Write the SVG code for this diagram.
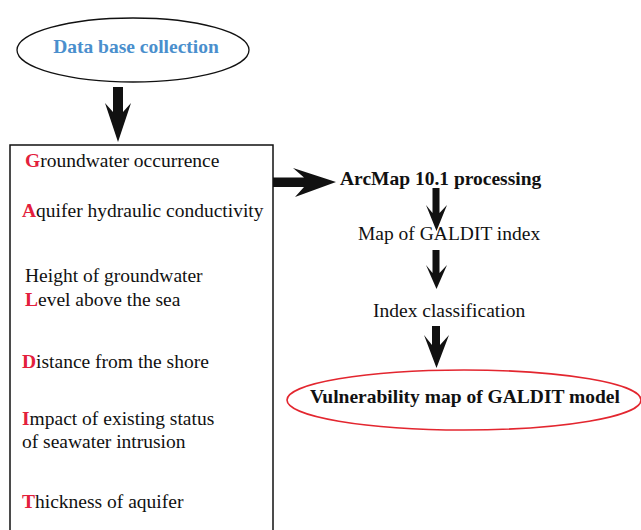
<svg xmlns="http://www.w3.org/2000/svg" width="641" height="530" viewBox="0 0 641 530">
  <style>
    text { font-family: 'Liberation Serif', 'DejaVu Serif', serif; font-size: 19.5px; fill: #111; }
    .b { font-weight: bold; }
    .k { font-weight: bold; fill: #e3203c; }
    .arrow { fill: #111; stroke: none; }
  </style>
  <rect width="641" height="530" fill="#ffffff"/>

  <!-- Start node -->
  <g id="node-database">
    <ellipse cx="133" cy="50" rx="116" ry="32" fill="#ffffff" stroke="#111" stroke-width="1.3"/>
    <text class="b" x="136" y="53" text-anchor="middle" fill="#4a8fcd" style="fill:#4a8fcd">Data base collection</text>
  </g>

  <!-- GALDIT parameters box -->
  <g id="node-parameters">
    <rect x="10" y="145" width="263" height="400" fill="#ffffff" stroke="#111" stroke-width="1.5"/>
    <text x="25" y="167"><tspan class="k">G</tspan>roundwater occurrence</text>
    <text x="22" y="217"><tspan class="k">A</tspan>quifer hydraulic conductivity</text>
    <text x="25" y="282">Height of groundwater</text>
    <text x="25" y="306"><tspan class="k">L</tspan>evel above the sea</text>
    <text x="22" y="368"><tspan class="k">D</tspan>istance from the shore</text>
    <text x="22" y="425"><tspan class="k">I</tspan>mpact of existing status</text>
    <text x="22" y="448">of seawater intrusion</text>
    <text x="22" y="508"><tspan class="k">T</tspan>hickness of aquifer</text>
  </g>

  <g id="node-arcmap">
    <text class="b" x="340" y="185">ArcMap 10.1 processing</text>
  </g>

  <g id="node-map-index">
    <text x="358" y="240">Map of GALDIT index</text>
  </g>

  <g id="node-classification">
    <text x="373" y="317">Index classification</text>
  </g>

  <g id="node-vulnerability">
    <ellipse cx="464" cy="400" rx="177" ry="30" fill="#ffffff" stroke="#e3262f" stroke-width="1.6"/>
    <text class="b" x="465" y="403" text-anchor="middle">Vulnerability map of GALDIT model</text>
  </g>

  <!-- Connectors -->
  <g id="connectors">
    <path class="arrow" d="M113,87 H123 V112 L131,103 L118,142 L105,103 L113,112 Z"/>
    <path class="arrow" d="M273,177.5 H304 L293,168 L336,182 L295,197 L304,187 H273 Z"/>
    <path class="arrow" d="M432.5,188 H439.5 V213 L447,205 L436.5,231 L426,205 L432.5,213 Z"/>
    <path class="arrow" d="M432.5,250 H439.5 V273 L447,265 L436.5,289 L426,265 L432.5,273 Z"/>
    <path class="arrow" d="M432,326 H440 V345 L449,335 L436.5,368 L424,335 L432,345 Z"/>
  </g>
</svg>
